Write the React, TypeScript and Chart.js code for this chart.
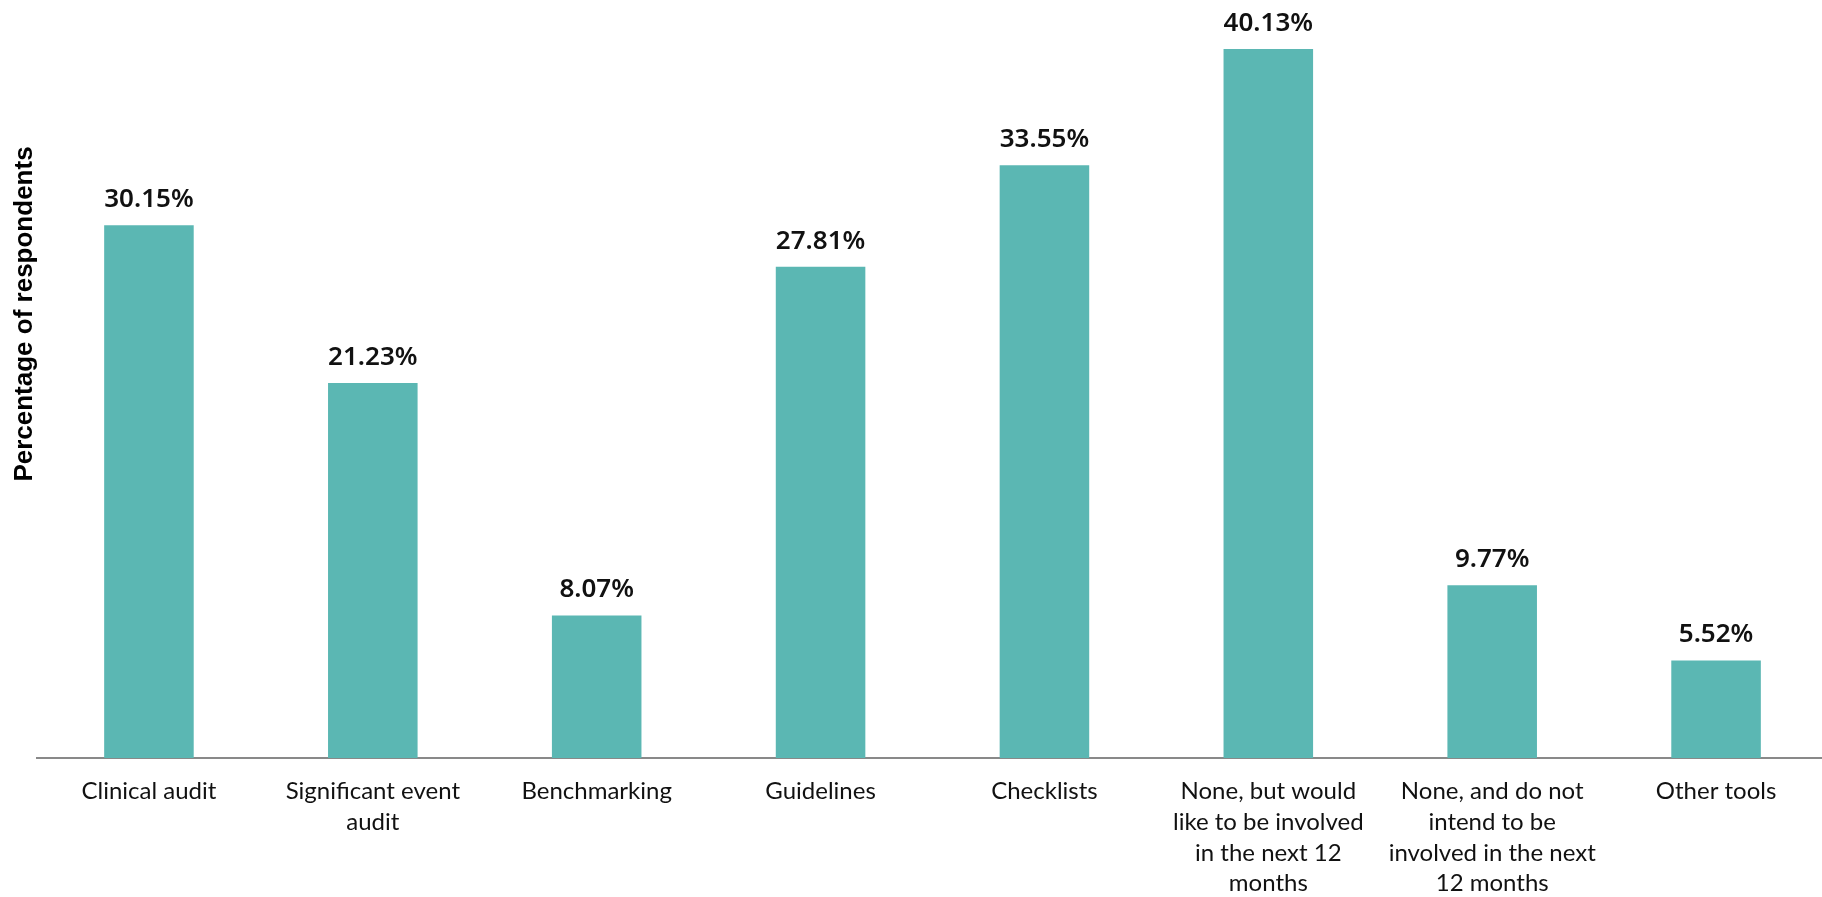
import React, { useEffect, useRef } from "react";
import { Chart, registerables } from "chart.js";

Chart.register(...registerables);

const categories: (string | string[])[] = [
  "Clinical audit",
  ["Significant event", "audit"],
  "Benchmarking",
  "Guidelines",
  "Checklists",
  ["None, but would", "like to be involved", "in the next 12", "months"],
  ["None, and do not", "intend to be", "involved in the next", "12 months"],
  "Other tools",
];

const percentages: number[] = [30.15, 21.23, 8.07, 27.81, 33.55, 40.13, 9.77, 5.52];

const yAxisTitle = "Percentage of respondents";

const barColor = "#5BB7B3";

const valueLabelPlugin = {
  id: "valueLabels",
  afterDatasetsDraw(chart: any) {
    const ctx = chart.ctx;
    const meta = chart.getDatasetMeta(0);
    ctx.save();
    ctx.fillStyle = "#111111";
    ctx.font = "600 26px 'Noto Sans'";
    ctx.textAlign = "center";
    ctx.textBaseline = "alphabetic";
    meta.data.forEach((el: any, i: number) => {
      const v = chart.data.datasets[0].data[i] as number;
      ctx.fillText(v.toFixed(2) + "%", el.x, el.y - 18);
    });
    ctx.restore();
  },
};

const yTitlePlugin = {
  id: "yTitle",
  afterDraw(chart: any) {
    const ctx = chart.ctx;
    ctx.save();
    ctx.translate(25, 314);
    ctx.rotate(-Math.PI / 2);
    ctx.fillStyle = "#000000";
    ctx.font = "bold 26px 'Liberation Sans'";
    ctx.textAlign = "center";
    ctx.textBaseline = "middle";
    ctx.fillText(yAxisTitle, 0, 0);
    ctx.restore();
  },
};

export default function App() {
  const canvasRef = useRef<HTMLCanvasElement | null>(null);

  useEffect(() => {
    document.body.style.margin = "0";
    const canvas = canvasRef.current;
    if (!canvas) return;
    const chart = new Chart(canvas, {
      type: "bar",
      data: {
        labels: categories,
        datasets: [
          {
            data: percentages,
            backgroundColor: barColor,
            borderWidth: 0,
            barPercentage: 0.4,
            categoryPercentage: 1,
          },
        ],
      },
      options: {
        animation: false,
        responsive: true,
        maintainAspectRatio: false,
        layout: { padding: { left: 37, right: 0, top: 0, bottom: 0 } },
        plugins: {
          legend: { display: false },
          tooltip: { enabled: false },
          title: { display: false },
        },
        scales: {
          y: {
            display: false,
            min: 0,
            max: 42.9,
          },
          x: {
            grid: { display: false, drawTicks: false },
            border: { display: true, color: "#898989", width: 2 },
            ticks: {
              color: "#111111",
              font: { family: "Lato", size: 24, lineHeight: 1.28 },
              padding: 18,
              maxRotation: 0,
              autoSkip: false,
            },
            afterFit: (scale: any) => {
              scale.height = 139;
            },
          },
        },
      },
      plugins: [valueLabelPlugin, yTitlePlugin],
    });
    return () => chart.destroy();
  }, []);

  return (
    <div style={{ width: "1822px", height: "897px", overflow: "hidden" }}>
      <div style={{ width: "1828px", height: "897px", position: "relative" }}>
        <canvas ref={canvasRef} />
      </div>
    </div>
  );
}
